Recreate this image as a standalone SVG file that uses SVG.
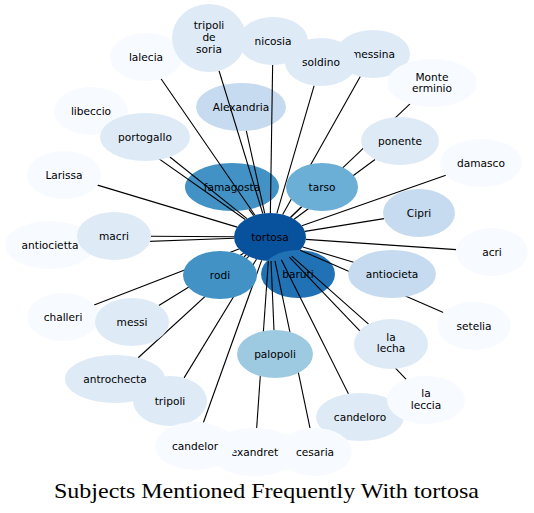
<svg xmlns="http://www.w3.org/2000/svg" width="534" height="513" viewBox="0 0 534 513">
<style>
  text { font-family: "DejaVu Sans", Verdana, sans-serif; font-size: 10.6px; fill: #000; text-anchor: middle; }
  .c0 { fill: #f7fbff; }
  .c1 { fill: #deebf7; }
  .c2 { fill: #c6dbef; }
  .c3 { fill: #9ecae1; }
  .c4 { fill: #6baed6; }
  .c5 { fill: #4292c6; }
  .c6 { fill: #2171b5; }
  .c7 { fill: #08519c; }
  #edges line { stroke: #000; stroke-width: 1.1; }
  .title { font-family: "Liberation Serif", "Times New Roman", serif; font-size: 22px; }
</style>
<rect width="534" height="513" fill="#fff"/>

<!-- nodes beneath connectors -->
<g id="famagosta"><ellipse class="c5" cx="232" cy="187" rx="47" ry="24"/><text x="232" y="190.7">famagosta</text></g>
<g id="Alexandria"><ellipse class="c2" cx="241" cy="107" rx="45" ry="24"/><text x="241" y="110.7">Alexandria</text></g>
<g id="tortosa"><ellipse class="c7" cx="270" cy="237" rx="36" ry="24"/><text x="270" y="240.7">tortosa</text></g>
<g id="baruti"><ellipse class="c6" cx="298" cy="274" rx="37" ry="24"/><text x="298" y="277.7">baruti</text></g>

<g id="edges">
  <line x1="254.97" y1="215.19" x2="161.03" y2="78.81"/>
  <line x1="262.79" y1="213.49" x2="219.03" y2="70.72"/>
  <line x1="270.37" y1="213.0" x2="272.63" y2="65.0"/>
  <line x1="282.65" y1="214.53" x2="360.31" y2="76.55"/>
  <line x1="276.87" y1="213.44" x2="314.13" y2="85.56"/>
  <line x1="290.67" y1="217.35" x2="409.98" y2="103.93"/>
  <line x1="294.12" y1="219.19" x2="375.03" y2="159.44"/>
  <line x1="301.86" y1="225.83" x2="445.83" y2="175.34"/>
  <line x1="245.24" y1="219.57" x2="116.07" y2="128.65"/>
  <line x1="246.95" y1="218.56" x2="169.96" y2="156.97"/>
  <line x1="264.70" y1="213.26" x2="246.32" y2="130.83"/>
  <line x1="237.19" y1="227.12" x2="97.56" y2="185.10"/>
  <line x1="253.73" y1="215.59" x2="249.0" y2="209.37"/>
  <line x1="290.51" y1="217.28" x2="301.49" y2="206.72"/>
  <line x1="304.99" y1="231.36" x2="384.01" y2="218.64"/>
  <line x1="234.05" y1="238.31" x2="94.9" y2="243.37"/>
  <line x1="234.0" y1="236.77" x2="151.0" y2="236.24"/>
  <line x1="305.82" y1="239.42" x2="456.18" y2="249.58"/>
  <line x1="246.26" y1="255.04" x2="244.02" y2="256.74"/>
  <line x1="302.77" y1="246.94" x2="353.55" y2="262.34"/>
  <line x1="238.85" y1="249.04" x2="94.15" y2="304.96"/>
  <line x1="243.56" y1="253.29" x2="158.83" y2="305.47"/>
  <line x1="300.12" y1="250.14" x2="443.30" y2="312.61"/>
  <line x1="291.67" y1="256.16" x2="368.54" y2="324.13"/>
  <line x1="289.36" y1="257.23" x2="406.21" y2="379.32"/>
  <line x1="271.03" y1="260.99" x2="273.97" y2="330.01"/>
  <line x1="248.82" y1="256.40" x2="138.2" y2="357.74"/>
  <line x1="256.44" y1="259.23" x2="184.09" y2="377.89"/>
  <line x1="281.38" y1="259.77" x2="348.42" y2="393.84"/>
  <line x1="268.33" y1="260.97" x2="256.67" y2="428.02"/>
  <line x1="261.62" y1="260.34" x2="203.42" y2="422.54"/>
  <line x1="274.98" y1="260.77" x2="310.02" y2="428.22"/>
</g>

<!-- nodes above connectors -->
<g id="lalecia"><ellipse class="c0" cx="146" cy="57" rx="36" ry="24"/><text x="146" y="60.7">lalecia</text></g>
<g id="tripoli_de_soria"><ellipse class="c1" cx="209" cy="38" rx="37" ry="34"/><text x="209" y="28.7">tripoli</text><text x="209" y="40.7">de</text><text x="209" y="52.7">soria</text></g>
<g id="nicosia"><ellipse class="c1" cx="273" cy="41" rx="35" ry="24"/><text x="273" y="44.7">nicosia</text></g>
<g id="messina"><ellipse class="c1" cx="373" cy="54" rx="37" ry="24"/><text x="373" y="57.7">messina</text></g>
<g id="soldino"><ellipse class="c1" cx="321" cy="62" rx="36" ry="24"/><text x="321" y="65.7">soldino</text></g>
<g id="Monte_erminio"><ellipse class="c0" cx="432" cy="83" rx="45" ry="24"/><text x="432" y="80.5">Monte</text><text x="432" y="92">erminio</text></g>
<g id="ponente"><ellipse class="c1" cx="400" cy="141" rx="39" ry="24"/><text x="400" y="144.7">ponente</text></g>
<g id="damasco"><ellipse class="c0" cx="481" cy="163" rx="41" ry="24"/><text x="481" y="166.7">damasco</text></g>
<g id="libeccio"><ellipse class="c0" cx="91" cy="111" rx="37" ry="24"/><text x="91" y="114.7">libeccio</text></g>
<g id="portogallo"><ellipse class="c1" cx="145" cy="137" rx="45" ry="24"/><text x="145" y="140.7">portogallo</text></g>
<g id="Larissa"><ellipse class="c0" cx="64" cy="175" rx="37" ry="24"/><text x="64" y="178.7">Larissa</text></g>
<g id="tarso"><ellipse class="c4" cx="322" cy="187" rx="36" ry="24"/><text x="322" y="190.7">tarso</text></g>
<g id="Cipri"><ellipse class="c2" cx="419" cy="213" rx="36" ry="24"/><text x="419" y="216.7">Cipri</text></g>
<g id="antiocietta"><ellipse class="c0" cx="50" cy="245" rx="45" ry="24"/><text x="50" y="248.7">antiocietta</text></g>
<g id="macri"><ellipse class="c1" cx="114" cy="236" rx="37" ry="24"/><text x="114" y="239.7">macri</text></g>
<g id="acri"><ellipse class="c0" cx="492" cy="252" rx="36" ry="24"/><text x="492" y="255.7">acri</text></g>
<g id="rodi"><ellipse class="c5" cx="220" cy="275" rx="37" ry="24"/><text x="220" y="278.7">rodi</text></g>
<g id="antiocieta"><ellipse class="c2" cx="392" cy="274" rx="44" ry="24"/><text x="392" y="277.7">antiocieta</text></g>
<g id="challeri"><ellipse class="c0" cx="63" cy="317" rx="36" ry="24"/><text x="63" y="320.7">challeri</text></g>
<g id="messi"><ellipse class="c1" cx="132" cy="322" rx="37" ry="24"/><text x="132" y="325.7">messi</text></g>
<g id="setelia"><ellipse class="c0" cx="474" cy="326" rx="37" ry="24"/><text x="474" y="329.7">setelia</text></g>
<g id="la_lecha"><ellipse class="c1" cx="391" cy="344" rx="37" ry="25"/><text x="391" y="340.5">la</text><text x="391" y="352">lecha</text></g>
<g id="palopoli"><ellipse class="c3" cx="275" cy="354" rx="38" ry="24"/><text x="275" y="357.7">palopoli</text></g>
<g id="antrochecta"><ellipse class="c1" cx="115" cy="379" rx="50" ry="24"/><text x="115" y="382.7">antrochecta</text></g>
<g id="tripoli"><ellipse class="c1" cx="170" cy="401" rx="37" ry="25"/><text x="170" y="404.7">tripoli</text></g>
<g id="candeloro"><ellipse class="c1" cx="360" cy="417" rx="44" ry="24"/><text x="360" y="420.7">candeloro</text></g>
<g id="la_leccia"><ellipse class="c0" cx="426" cy="400" rx="39" ry="24"/><text x="426" y="397">la</text><text x="426" y="408.7">leccia</text></g>
<g id="alexandretta"><ellipse class="c0" cx="255" cy="452" rx="46" ry="24"/><text x="255" y="455.7">alexandretta</text></g>
<g id="candelor"><ellipse class="c0" cx="195" cy="446" rx="40" ry="24"/><text x="195" y="449.7">candelor</text></g>
<g id="cesaria"><ellipse class="c0" cx="315" cy="452" rx="37" ry="24"/><text x="315" y="455.7">cesaria</text></g>

<text class="title" x="266.5" y="498" textLength="425" lengthAdjust="spacingAndGlyphs">Subjects Mentioned Frequently With tortosa</text>
</svg>
